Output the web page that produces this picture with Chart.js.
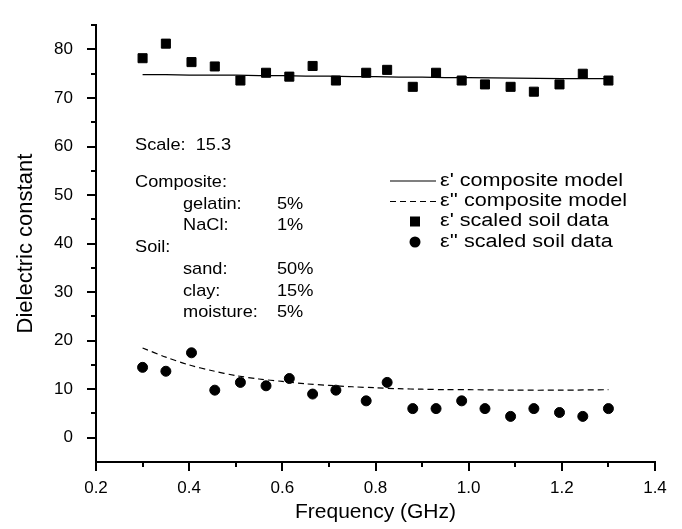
<!DOCTYPE html>
<html>
<head>
<meta charset="utf-8">
<script src="https://cdn.jsdelivr.net/npm/chart.js@4.4.1/dist/chart.umd.min.js"></script>
<style>
  html, body { margin: 0; padding: 0; background: #fff; }
  #wrap { width: 682px; height: 529px; position: relative; }
</style>
</head>
<body>
<div id="wrap"><canvas id="c" width="682" height="529"></canvas></div>
<script>
// ---- data ----
const freqData = [0.30, 0.35, 0.405, 0.455, 0.51, 0.565, 0.615, 0.665, 0.715, 0.78, 0.825, 0.88, 0.93, 0.985, 1.035, 1.09, 1.14, 1.195, 1.245, 1.30];
const epsRealData = [78.2, 81.2, 77.4, 76.5, 73.6, 75.2, 74.4, 76.6, 73.6, 75.2, 75.8, 72.3, 75.2, 73.6, 72.8, 72.3, 71.3, 72.8, 75.0, 73.6];
const epsImagData = [14.5, 13.7, 17.5, 9.8, 11.4, 10.7, 12.2, 9.0, 9.8, 7.6, 11.4, 6.0, 6.0, 7.6, 6.0, 4.4, 6.0, 5.2, 4.4, 6.0];
const modelFreq = [0.30, 0.35, 0.40, 0.45, 0.50, 0.55, 0.60, 0.65, 0.70, 0.75, 0.80, 0.85, 0.90, 0.95, 1.00, 1.10, 1.20, 1.30];
const modelReal = [74.8, 74.8, 74.7, 74.7, 74.7, 74.6, 74.6, 74.5, 74.5, 74.4, 74.4, 74.3, 74.3, 74.2, 74.2, 74.1, 74.0, 74.0];
const modelImag = [18.5, 16.6, 15.0, 13.8, 12.8, 12.1, 11.6, 11.1, 10.8, 10.5, 10.3, 10.1, 10.0, 9.9, 9.9, 9.8, 9.8, 9.9];
const seriesLabels = ["\u03b5' composite model", "\u03b5'' composite model", "\u03b5' scaled soil data", "\u03b5'' scaled soil data"];
const xMajorTicks = [0.2, 0.4, 0.6, 0.8, 1.0, 1.2, 1.4];
const xMinorTicks = [0.3, 0.5, 0.7, 0.9, 1.1, 1.3];
const yMajorTicks = [0, 10, 20, 30, 40, 50, 60, 70, 80];
const yMinorTicks = [5, 15, 25, 35, 45, 55, 65, 75, 85];
const annotationLines = [
  ["Scale:  15.3", "", ""],
  ["Composite:", "", ""],
  ["", "gelatin:", "5%"],
  ["", "NaCl:", "1%"],
  ["Soil:", "", ""],
  ["", "sand:", "50%"],
  ["", "clay:", "15%"],
  ["", "moisture:", "5%"]
];
const xTitle = "Frequency (GHz)";
const yTitle = "Dielectric constant";

const FONT = '"Liberation Sans", Arial, Helvetica, sans-serif';
const pts = (xs, ys) => xs.map((x, i) => ({x: x, y: ys[i]}));

function stretchedText(ctx, text, x, y, sx) {
  ctx.save();
  ctx.translate(x, y);
  ctx.scale(sx, 1);
  ctx.fillText(text, 0, 0);
  ctx.restore();
}

const tickPlugin = {
  id: 'ticks',
  afterDraw(chart) {
    const ctx = chart.ctx;
    const xs = chart.scales.x, ys = chart.scales.y;
    const ca = chart.chartArea;
    ctx.save();
    ctx.strokeStyle = '#000';
    ctx.lineWidth = 2;
    ctx.beginPath();
    yMajorTicks.forEach(v => { const p = Math.round(ys.getPixelForValue(v)); ctx.moveTo(ca.left - 9, p); ctx.lineTo(ca.left, p); });
    yMinorTicks.forEach(v => { const p = Math.round(ys.getPixelForValue(v)); ctx.moveTo(ca.left - 5, p); ctx.lineTo(ca.left, p); });
    xMajorTicks.forEach(v => { const p = Math.round(xs.getPixelForValue(v)); ctx.moveTo(p, ca.bottom); ctx.lineTo(p, ca.bottom + 9); });
    xMinorTicks.forEach(v => { const p = Math.round(xs.getPixelForValue(v)); ctx.moveTo(p, ca.bottom); ctx.lineTo(p, ca.bottom + 5); });
    ctx.stroke();

    // annotation text
    ctx.fillStyle = '#000';
    ctx.font = '17px ' + FONT;
    ctx.textBaseline = 'middle';
    ctx.textAlign = 'left';
    const rowsY = [145, 182.5, 204, 225.5, 247, 269, 291, 312.5];
    const colsX = [135, 183, 277];
    annotationLines.forEach((row, i) => {
      row.forEach((t, j) => { if (t) stretchedText(ctx, t, colsX[j], rowsY[i], 1.07); });
    });

    // legend
    const legY = [181, 201.5, 221.5, 242];
    ctx.font = '18px ' + FONT;
    chart.data.datasets.forEach((ds, i) => {
      const y = legY[i];
      if (ds.showLine) {
        ctx.beginPath();
        ctx.lineWidth = 1.2;
        ctx.setLineDash(ds.borderDash || []);
        ctx.moveTo(390, y); ctx.lineTo(436, y);
        ctx.stroke();
        ctx.setLineDash([]);
      } else if (ds.pointStyle === 'rect') {
        ctx.fillRect(415 - 5, y - 5, 10, 10);
      } else {
        ctx.beginPath(); ctx.arc(415, y, 5.5, 0, Math.PI * 2); ctx.fill();
      }
      stretchedText(ctx, ds.label, 440, y, 1.2);
    });
    ctx.restore();
  }
};

new Chart(document.getElementById('c'), {
  type: 'scatter',
  data: {
    datasets: [
      { label: seriesLabels[0], data: pts(modelFreq, modelReal), showLine: true, borderColor: '#000', borderWidth: 1.2, pointRadius: 0, tension: 0 },
      { label: seriesLabels[1], data: pts(modelFreq, modelImag), showLine: true, borderColor: '#000', borderWidth: 1.2, borderDash: [6, 4], pointRadius: 0, tension: 0.3 },
      { label: seriesLabels[2], data: pts(freqData, epsRealData), pointStyle: 'rect', pointRadius: 6.4, borderWidth: 1, backgroundColor: '#000', borderColor: '#000' },
      { label: seriesLabels[3], data: pts(freqData, epsImagData), pointStyle: 'circle', pointRadius: 5, borderWidth: 1, backgroundColor: '#000', borderColor: '#000' }
    ]
  },
  plugins: [tickPlugin],
  options: {
    responsive: false,
    animation: false,
    layout: { padding: { top: 13, right: 27, left: 0, bottom: 0 } },
    plugins: { legend: { display: false }, tooltip: { enabled: false } },
    scales: {
      x: {
        type: 'linear', min: 0.2, max: 1.4,
        grid: { display: false },
        border: { display: true, color: '#000', width: 2 },
        ticks: { stepSize: 0.2, padding: 8, color: '#000', font: { family: FONT, size: 17 },
          callback: v => (Math.abs(v * 5 - Math.round(v * 5)) < 1e-6 ? v.toFixed(1) : '') },
        title: { display: true, text: xTitle, color: '#000', font: { family: FONT, size: 21 }, padding: { top: 0, bottom: 4 } },
        afterFit: s => { s.height = 67; }
      },
      y: {
        type: 'linear', min: -5, max: 85,
        grid: { display: false },
        border: { display: true, color: '#000', width: 2 },
        ticks: { stepSize: 5, padding: 15, color: '#000', font: { family: FONT, size: 17 },
          callback: v => (Math.round(v) % 10 === 0 ? String(Math.round(v)) : '') },
        title: { display: true, text: yTitle, color: '#000', font: { family: FONT, size: 22 }, padding: { top: 13, bottom: 0 } },
        afterFit: s => { s.width = 96; }
      }
    }
  }
});
</script>
</body>
</html>
